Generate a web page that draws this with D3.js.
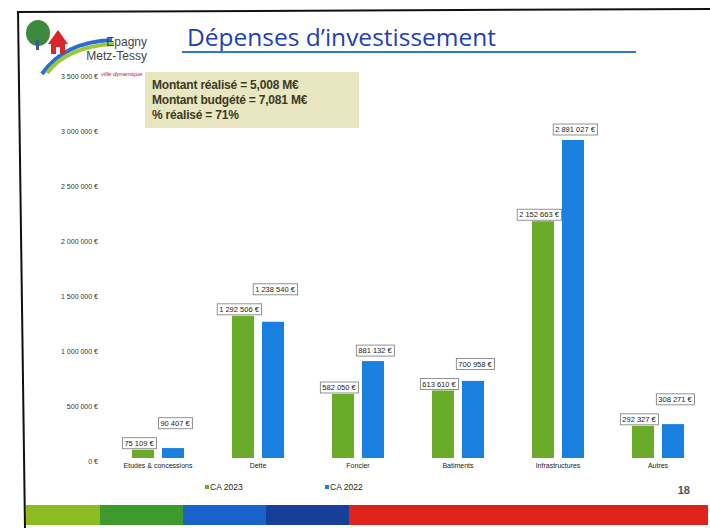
<!DOCTYPE html>
<meta charset="utf-8">
<head>
<style>
  body { margin: 0; background: #fff; }
  svg { display: block; font-family: "Liberation Sans", Arial, sans-serif; }
  .axis text { font-size: 7px; fill: #333; }
  .cat text { font-size: 7px; fill: #222; }
  .lbl text { font-size: 7.5px; fill: #222; }
</style>
</head>
<body>
<div class="chart"></div>
<script src="https://d3js.org/d3.v7.min.js" charset="utf-8"></script>
<script>
const categories = ['Etudes & concessions', 'Dette', 'Foncier', 'Batiments', 'Infrastructures', 'Autres'];
const ca2023 = [75109, 1292506, 582050, 613610, 2152663, 292327];
const ca2022 = [90407, 1238540, 881132, 700958, 2891027, 308271];
const seriesNames = ['CA 2023', 'CA 2022'];
const yTicks = [0, 500000, 1000000, 1500000, 2000000, 2500000, 3000000, 3500000];
const infoLines = ['Montant réalisé = 5,008 M€', 'Montant budgété =  7,081 M€', '% réalisé = 71%'];

const W = 710, H = 528;
const green = '#6aac2a', blue = '#1a80e0';

const svg = d3.select('.chart').append('svg')
  .attr('width', W).attr('height', H);

// slide frame
svg.append('rect').attr('x', 0).attr('y', 0).attr('width', W).attr('height', H).attr('fill', '#fff');
svg.append('line').attr('x1', 17).attr('y1', 12).attr('x2', 710).attr('y2', 9)
  .attr('stroke', '#111').attr('stroke-width', 2);
svg.append('line').attr('x1', 18).attr('y1', 11).attr('x2', 25).attr('y2', 528)
  .attr('stroke', '#111').attr('stroke-width', 2);

// bottom stripe
const stripe = [['#8cbb22', 26, 100], ['#3e9a2c', 100, 183], ['#1a62cc', 183, 266], ['#163f99', 266, 349], ['#e0231a', 349, 708]];
svg.selectAll('.stripe').data(stripe).enter().append('rect')
  .attr('x', d => d[1]).attr('width', d => d[2] - d[1])
  .attr('y', 505).attr('height', 20).attr('fill', d => d[0]);

// scales
const x = d3.scaleBand().domain(categories).range([108, 708]);
const y = d3.scaleLinear().domain([0, 3000000]).range([458, 128]);
const fmt = v => d3.format(',')(v).replace(/,/g, ' ') + ' €';

const yAxis = d3.axisLeft(y).tickValues(yTicks).tickSize(0).tickPadding(0)
  .tickFormat(fmt);
svg.append('g').attr('class', 'axis').attr('transform', 'translate(98,3)')
  .call(yAxis).call(g => g.select('.domain').remove());

const xAxis = d3.axisBottom(x).tickSize(0).tickPadding(0);
svg.append('g').attr('class', 'cat').attr('transform', 'translate(0,463)')
  .call(xAxis).call(g => g.select('.domain').remove());

const barW = 22;
const rows = categories.map((c, i) => ({ c, a: ca2023[i], b: ca2022[i] }));
const g = svg.append('g');
const gx = d => x(d.c) + x.bandwidth() / 2;

g.selectAll('.b23').data(rows).enter().append('rect')
  .attr('x', d => gx(d) - barW - 4).attr('width', barW)
  .attr('y', d => y(d.a)).attr('height', d => y(0) - y(d.a)).attr('fill', green);
g.selectAll('.b22').data(rows).enter().append('rect')
  .attr('x', d => gx(d) + 4).attr('width', barW)
  .attr('y', d => y(d.b)).attr('height', d => y(0) - y(d.b)).attr('fill', blue);

// data labels
function label(cx, bottom, txt) {
  const lg = svg.append('g').attr('class', 'lbl');
  const t = lg.append('text').attr('x', cx).attr('y', bottom - 3)
    .attr('text-anchor', 'middle').text(txt);
  const bb = t.node().getBBox();
  lg.insert('rect', 'text').attr('x', bb.x - 2).attr('y', bottom - 11)
    .attr('width', bb.width + 4).attr('height', 11)
    .attr('fill', '#fff').attr('stroke', '#777').attr('stroke-width', 0.8);
}
rows.forEach(d => {
  const gBottom = y(d.a) - 1;
  label(gx(d) - 19, gBottom, fmt(d.a));
  const bBottom = Math.min(y(d.b) - 5, gBottom - 20);
  label(gx(d) + 17, bBottom, fmt(d.b));
});

// legend
const leg = svg.append('g').style('font-size', '8.5px');
[[green, 205], [blue, 325]].forEach((c, i) => {
  leg.append('rect').attr('x', c[1]).attr('y', 485).attr('width', 4).attr('height', 4).attr('fill', c[0]);
  leg.append('text').attr('x', c[1] + 5).attr('y', 490).attr('fill', '#222').text(seriesNames[i]);
});
svg.append('text').attr('x', 690).attr('y', 494).attr('text-anchor', 'end')
  .style('font-size', '11px').style('font-weight', 'bold').attr('fill', '#555').text('18');

// title
svg.append('text').attr('x', 187).attr('y', 46)
  .style('font-family', '"Open Sans", "Noto Sans", sans-serif').style('font-size', '24.5px')
  .attr('fill', '#1e3fb5').text('Dépenses d’investissement');
svg.append('line').attr('x1', 182).attr('y1', 52).attr('x2', 636).attr('y2', 52)
  .attr('stroke', '#2a78d0').attr('stroke-width', 2);

// info box
svg.append('rect').attr('x', 145).attr('y', 72).attr('width', 214).attr('height', 56).attr('fill', '#e8e7c2');
svg.selectAll('.info').data(infoLines).enter().append('text')
  .attr('x', 152).attr('y', (d, i) => 89 + i * 15)
  .style('font-size', '12px').style('font-weight', 'bold').attr('fill', '#3b3a22')
  .style('letter-spacing', '-0.2px')
  .text(d => d);

// logo
const logo = svg.append('g');
logo.append('path').attr('d', 'M42,74 Q64,42 112,40').attr('fill', 'none').attr('stroke', '#2a6fd0').attr('stroke-width', 4);
logo.append('path').attr('d', 'M47,73 Q68,46 114,44').attr('fill', 'none').attr('stroke', '#9cc83a').attr('stroke-width', 4);
logo.append('ellipse').attr('cx', 38).attr('cy', 33).attr('rx', 12).attr('ry', 13).attr('fill', '#3d8a3e');
logo.append('rect').attr('x', 36).attr('y', 40).attr('width', 3).attr('height', 10).attr('fill', '#3a5b8a');
logo.append('path').attr('d', 'M48,44 L58,30 L68,44 Z').attr('fill', '#d8262a');
logo.append('rect').attr('x', 51).attr('y', 43).attr('width', 14).attr('height', 11).attr('fill', '#d8262a');
logo.append('rect').attr('x', 56).attr('y', 47).attr('width', 4).attr('height', 7).attr('fill', '#fff');
logo.append('text').attr('x', 147).attr('y', 46).attr('text-anchor', 'end')
  .style('font-size', '12px').attr('fill', '#444').text('Epagny');
logo.append('text').attr('x', 147).attr('y', 60).attr('text-anchor', 'end')
  .style('font-size', '12px').attr('fill', '#444').text('Metz-Tessy');
logo.append('text').attr('x', 101).attr('y', 76).style('font-size', '6px').style('font-style', 'italic')
  .attr('fill', '#c02020').text('ville dynamique');
</script>
</body>
